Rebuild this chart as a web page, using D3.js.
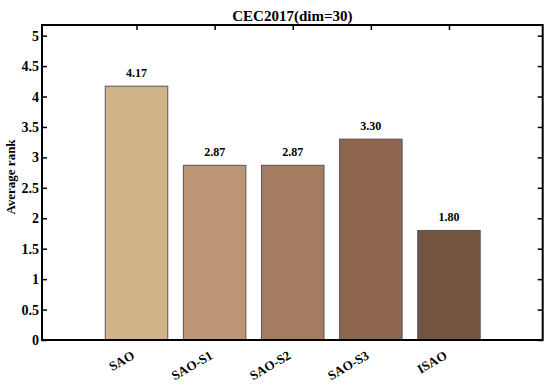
<!DOCTYPE html>
<html><head><meta charset="utf-8">
<script src="https://cdn.jsdelivr.net/npm/d3@7"></script>
<style>body{margin:0;background:#fff}svg{display:block}text{font-family:"Liberation Serif","Times New Roman",serif;font-weight:bold}</style>
</head><body><svg id="c" width="550" height="385"></svg>
<script>
const categories = ["SAO","SAO-S1","SAO-S2","SAO-S3","ISAO"];
const values = [4.17, 2.87, 2.87, 3.30, 1.80];
const valueLabels = ["4.17","2.87","2.87","3.30","1.80"];
const colors = ["#d2b48b","#bc9675","#a67d60","#8e6650","#735542"];
const yTicks = [0,0.5,1,1.5,2,2.5,3,3.5,4,4.5,5];
const yTickLabels = ["0","0.5","1","1.5","2","2.5","3","3.5","4","4.5","5"];
const title = "CEC2017(dim=30)";
const yTitle = "Average rank";

const svg = d3.select("#c");
const L=42, R=542.7, T=25, B=340;
const x = d3.scaleLinear().domain([-0.21, 6.2]).range([L, R]);
const y = d3.scaleLinear().domain([0, 5.175]).range([B, T]);
const step = x(1)-x(0), bw = step*0.8;

// bars
svg.append("g").selectAll("rect").data(values).join("rect")
  .attr("x",(d,i)=>x(i+1)-bw/2).attr("width",bw)
  .attr("y",d=>y(d)).attr("height",d=>y(0)-y(d))
  .attr("fill",(d,i)=>colors[i]).attr("stroke","#555").attr("stroke-width",1);

// value labels
svg.append("g").selectAll("text").data(values).join("text")
  .attr("x",(d,i)=>x(i+1)).attr("y",d=>y(d)-9)
  .attr("text-anchor","middle").attr("font-size",12).text((d,i)=>valueLabels[i]);

// axes
const yl = d3.axisLeft(y).tickValues(yTicks).tickFormat((d,i)=>yTickLabels[i]).tickSizeInner(-5).tickSizeOuter(0).tickPadding(3);
const gy = svg.append("g").attr("transform",`translate(${L},0)`).call(yl);
gy.selectAll("text").attr("font-size",14).attr("fill","#000");
const yr = d3.axisRight(y).tickValues(yTicks).tickFormat("").tickSizeInner(-5).tickSizeOuter(0);
svg.append("g").attr("transform",`translate(${R},0)`).call(yr);
const xt = d3.axisTop(x).tickValues([1,2,3,4,5]).tickFormat("").tickSizeInner(-5).tickSizeOuter(0);
svg.append("g").attr("transform",`translate(0,${T})`).call(xt);
svg.selectAll(".domain").remove();
svg.selectAll(".tick line").attr("stroke","#000").attr("stroke-width",1.5);
svg.append("rect").attr("x",L).attr("y",T).attr("width",R-L).attr("height",B-T)
  .attr("fill","none").attr("stroke","#000").attr("stroke-width",2);

// x labels
svg.append("g").selectAll("text").data(categories).join("text")
  .attr("text-anchor","end").attr("font-size",13)
  .attr("transform",(d,i)=>`translate(${x(i+1)-1},${B+18}) rotate(-30)`)
  .text(d=>d);

// titles
svg.append("text").attr("x",(L+R)/2).attr("y",21).attr("text-anchor","middle").attr("font-size",15).text(title);
svg.append("text").attr("transform",`translate(15,177) rotate(-90)`).attr("text-anchor","middle").attr("font-size",13).text(yTitle);
</script></body></html>
